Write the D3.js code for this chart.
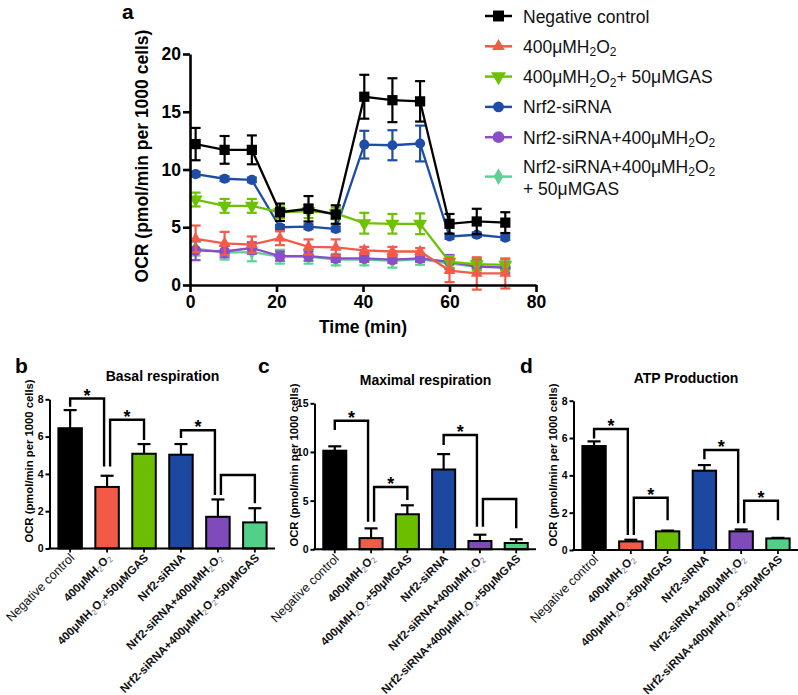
<!DOCTYPE html>
<html><head><meta charset="utf-8">
<script src="https://cdn.jsdelivr.net/npm/d3@7"></script>
<style>
body{margin:0;background:#fff}
text{font-family:"Liberation Sans",Arial,Helvetica,sans-serif}
</style>
</head><body>
<svg id="chart" width="798" height="695"></svg>
<script>
// ---------------- DATA ----------------
const seriesNames = ["Negative control","400μMH2O2","400μMH2O2+ 50μMGAS","Nrf2-siRNA","Nrf2-siRNA+400μMH2O2","Nrf2-siRNA+400μMH2O2|+ 50μMGAS"];
const timeMin = [1.3, 8.0, 14.3, 20.8, 27.4, 33.7, 40.3, 46.8, 53.2, 60.0, 66.3, 72.9];
const ncMean  = [12.2, 11.7, 11.7, 6.3, 6.6, 6.1, 16.3, 16.0, 15.9, 5.3, 5.5, 5.4];
const ncErr   = [1.4, 1.2, 1.25, 0.75, 1.1, 0.8, 1.9, 1.9, 1.75, 0.85, 1.1, 0.9];
const h2o2Mean = [4.0, 3.6, 3.5, 4.05, 3.3, 3.25, 3.0, 2.9, 2.9, 1.25, 1.0, 1.0];
const h2o2Err  = [1.15, 1.0, 0.7, 0.6, 0.65, 0.7, 0.3, 0.4, 0.3, 1.0, 1.4, 1.3];
const gasMean  = [7.4, 6.85, 6.85, 6.3, 6.4, 6.2, 5.35, 5.3, 5.3, 2.0, 1.8, 1.75];
const gasErr   = [0.6, 0.6, 0.6, 0.5, 0.6, 0.5, 0.9, 0.85, 0.9, 0.5, 0.5, 0.5];
const siMean   = [9.6, 9.2, 9.1, 5.0, 5.05, 4.85, 12.15, 12.1, 12.25, 4.2, 4.35, 4.1];
const siErr    = [0.2, 0.2, 0.2, 0.2, 0.2, 0.2, 1.2, 1.3, 1.55, 0.2, 0.2, 0.2];
const siH2o2Mean = [3.0, 2.9, 3.2, 2.5, 2.5, 2.3, 2.3, 2.2, 2.3, 2.0, 1.6, 1.5];
const siH2o2Err  = [0.85, 0.5, 0.5, 0.4, 0.4, 0.3, 0.3, 0.3, 0.3, 0.6, 0.6, 0.5];
const siGasMean  = [3.15, 2.8, 2.85, 2.45, 2.45, 2.2, 2.2, 2.1, 2.25, 1.85, 1.6, 1.55];
const siGasErr   = [0.6, 0.6, 0.8, 0.6, 0.6, 0.5, 0.5, 0.6, 0.5, 0.5, 0.5, 0.5];
const xTicksTop = [0, 20, 40, 60, 80];
const yTicksTop = [0, 5, 10, 15, 20];

const categories = ["Negative control","400μMH2O2","400μMH2O2+50μMGAS","Nrf2-siRNA","Nrf2-siRNA+400μMH2O2","Nrf2-siRNA+400μMH2O2+50μMGAS"];
const basalMean = [6.45, 3.3, 5.08, 5.03, 1.7, 1.4];
const basalErr  = [0.97, 0.6, 0.52, 0.57, 0.93, 0.76];
const maximalMean = [10.13, 1.15, 3.6, 8.2, 0.85, 0.65];
const maximalErr  = [0.45, 1.0, 0.92, 1.58, 0.65, 0.38];
const atpMean = [5.57, 0.46, 1.0, 4.25, 1.0, 0.62];
const atpErr  = [0.25, 0.09, 0.04, 0.3, 0.1, 0.03];
// brackets: [from, to, top value, left leg end, right leg end, significant]
const basalBrackets   = [[0,1,8.04,7.6,4.4,true],[1,2,6.9,4.4,5.82,true],[3,4,6.34,5.93,2.87,true],[4,5,3.94,2.87,2.42,false]];
const maximalBrackets = [[0,1,13.2,12.26,2.84,true],[1,2,6.4,2.84,5.07,true],[3,4,11.75,10.72,2.32,true],[4,5,5.17,2.32,2.16,false]];
const atpBrackets     = [[0,1,6.48,5.98,0.8,true],[1,2,2.8,0.8,1.6,true],[3,4,5.36,4.86,1.43,true],[4,5,2.64,1.43,1.6,true]];
const basalTicks = [0,2,4,6,8];
const maximalTicks = [0,5,10,15];
const atpTicks = [0,2,4,6,8];

const lineColors = ["#000000","#F45A48","#6DC200","#1F4DA6","#8A4FC6","#5AD494"];
const barColors  = ["#000000","#F05A46","#6CBF00","#1D48A0","#7F4BBA","#52CF88"];

// ---------------- HELPERS ----------------
const svg = d3.select("#chart");
function rich(textSel, str, subSize, subShift, subStyle) {
  const parts = []; let buf = "";
  for (let i = 0; i < str.length; i++) {
    const ch = str[i];
    if (ch === "2" && i > 0 && (str[i-1] === "H" || str[i-1] === "O")) {
      if (buf) parts.push({t: buf, sub: false});
      parts.push({t: "2", sub: true}); buf = "";
    } else buf += ch;
  }
  if (buf) parts.push({t: buf, sub: false});
  let shifted = false;
  parts.forEach(p => {
    const ts = textSel.append("tspan").text(p.t);
    if (p.sub) {
      ts.attr("dy", subShift).attr("font-size", subSize);
      if (subStyle) subStyle(ts);
      shifted = true;
    } else if (shifted) { ts.attr("dy", -subShift); shifted = false; }
  });
}
function symbolPath(i, big) {
  const s = big ? 1.15 : 1;
  switch (i) {
    case 0: return d3.symbol(d3.symbolSquare, 105*s)();
    case 1: return d3.symbol(d3.symbolTriangle, 60*s)();
    case 2: return d3.symbol(d3.symbolTriangle, 85*s)();
    case 3: return d3.symbol(d3.symbolCircle, 80*s)();
    case 4: return d3.symbol(d3.symbolCircle, 95*s)();
    default: return d3.symbol(d3.symbolDiamond, 70*s)();
  }
}
function symTransform(i, x, y) {
  return i === 2 ? `translate(${x},${y}) rotate(180)` : `translate(${x},${y})`;
}

// ---------------- PANEL A ----------------
const xT = d3.scaleLinear().domain([0, 80]).range([190, 536]);
const yT = d3.scaleLinear().domain([0, 20]).range([285, 54]);
const gA = svg.append("g");

const allSeries = [
  {m: ncMean, e: ncErr}, {m: h2o2Mean, e: h2o2Err}, {m: gasMean, e: gasErr},
  {m: siMean, e: siErr}, {m: siH2o2Mean, e: siH2o2Err}, {m: siGasMean, e: siGasErr}
];
const line = d3.line().x(d => xT(d.t)).y(d => yT(d.v));
for (let si = allSeries.length - 1; si >= 0; si--) {
  const s = allSeries[si];
  const pts = timeMin.map((t, k) => ({t, v: s.m[k], e: s.e[k]}));
  const g = gA.append("g");
  g.append("path").datum(pts).attr("d", line).attr("fill", "none")
    .attr("stroke", lineColors[si]).attr("stroke-width", 2.3);
  const eb = g.selectAll("g.eb").data(pts).enter().append("g")
    .attr("stroke", lineColors[si]).attr("stroke-width", 2.2);
  eb.append("line").attr("x1", d => xT(d.t)).attr("x2", d => xT(d.t))
    .attr("y1", d => yT(d.v - d.e)).attr("y2", d => yT(d.v + d.e));
  eb.append("line").attr("x1", d => xT(d.t) - 5).attr("x2", d => xT(d.t) + 5)
    .attr("y1", d => yT(d.v + d.e)).attr("y2", d => yT(d.v + d.e));
  eb.append("line").attr("x1", d => xT(d.t) - 5).attr("x2", d => xT(d.t) + 5)
    .attr("y1", d => yT(d.v - d.e)).attr("y2", d => yT(d.v - d.e));
  g.selectAll("path.sym").data(pts).enter().append("path")
    .attr("d", symbolPath(si)).attr("transform", d => symTransform(si, xT(d.t), yT(d.v)))
    .attr("fill", lineColors[si]);
}
const axB = gA.append("g").attr("transform", "translate(0,285)")
  .call(d3.axisBottom(xT).tickValues(xTicksTop).tickSize(7).tickSizeOuter(0).tickPadding(4));
const axL = gA.append("g").attr("transform", "translate(190,0)")
  .call(d3.axisLeft(yT).tickValues(yTicksTop).tickSize(7).tickSizeOuter(0).tickPadding(2));
[axB, axL].forEach(a => {
  a.select(".domain").attr("stroke", "#000").attr("stroke-width", 2.6);
  a.selectAll(".tick line").attr("stroke", "#000").attr("stroke-width", 2.6);
  a.selectAll(".tick text").attr("font-size", 17.5).attr("font-weight", "bold")
    .attr("font-family", '"Liberation Sans",Arial,sans-serif').attr("fill", "#000");
});
gA.append("text").attr("x", 363).attr("y", 333).attr("text-anchor", "middle")
  .attr("font-size", 17.5).attr("font-weight", "bold").text("Time (min)");
gA.append("text").attr("transform", "translate(148,156) rotate(-90)").attr("text-anchor", "middle")
  .attr("font-size", 17.5).attr("font-weight", "bold").text("OCR (pmol/min per 1000 cells)");
gA.append("text").attr("x", 122).attr("y", 19).attr("font-size", 21).attr("font-weight", "bold").text("a");

// legend
const legRowY = [16, 46.3, 76.6, 106.9, 137.2, 176.6];
seriesNames.forEach((name, i) => {
  const y = legRowY[i];
  const g = gA.append("g");
  g.append("line").attr("x1", 485).attr("x2", 512).attr("y1", y).attr("y2", y)
    .attr("stroke", lineColors[i]).attr("stroke-width", 2.5);
  g.append("path").attr("d", symbolPath(i, true)).attr("transform", symTransform(i, 498.5, y))
    .attr("fill", lineColors[i]);
  const lines = name.split("|");
  lines.forEach((ln, k) => {
    const t = g.append("text").attr("x", 523)
      .attr("y", lines.length > 1 ? (k === 0 ? 172.5 : 194.5) : y + 6.5)
      .attr("font-size", 17.5).attr("fill", "#111");
    rich(t, ln, 12, 3.5);
  });
});

// ---------------- BAR PANELS ----------------
function barPanel(cfg) {
  const g = svg.append("g");
  const x = d3.scaleBand().domain(categories).range([cfg.x0, cfg.x1]).paddingInner(0.31).paddingOuter(0.2);
  const y = d3.scaleLinear().domain([0, cfg.ticks[cfg.ticks.length - 1]]).range([cfg.yBase, cfg.yTop]);
  const bw = x.bandwidth();
  const cx = i => x(categories[i]) + bw / 2;
  g.selectAll("rect").data(cfg.mean).enter().append("rect")
    .attr("x", (d, i) => x(categories[i]) + 1).attr("width", bw - 2)
    .attr("y", d => y(d)).attr("height", d => y(0) - y(d))
    .attr("fill", (d, i) => barColors[i]).attr("stroke", "#000").attr("stroke-width", 2);
  cfg.mean.forEach((m, i) => {
    const top = y(m + cfg.err[i]);
    g.append("line").attr("x1", cx(i)).attr("x2", cx(i)).attr("y1", y(m)).attr("y2", top)
      .attr("stroke", "#000").attr("stroke-width", 2.2);
    g.append("line").attr("x1", cx(i) - 6.5).attr("x2", cx(i) + 6.5).attr("y1", top).attr("y2", top)
      .attr("stroke", "#000").attr("stroke-width", 2.2);
  });
  const ay = g.append("g").attr("transform", `translate(${cfg.x0 - 0.5},0)`)
    .call(d3.axisLeft(y).tickValues(cfg.ticks).tickSize(4).tickSizeOuter(0).tickPadding(2));
  ay.select(".domain").attr("stroke-width", 2);
  ay.selectAll(".tick line").attr("stroke-width", 2);
  ay.selectAll(".tick text").attr("font-size", 10.5).attr("font-weight", "bold")
    .attr("font-family", '"Liberation Sans",Arial,sans-serif').attr("fill", "#000");
  g.append("line").attr("x1", cfg.x0 - 1.5).attr("x2", cfg.x1).attr("y1", y(0)).attr("y2", y(0))
    .attr("stroke", "#000").attr("stroke-width", 2);
  categories.forEach((c, i) => {
    g.append("line").attr("x1", cx(i)).attr("x2", cx(i)).attr("y1", y(0)).attr("y2", y(0) + 4)
      .attr("stroke", "#000").attr("stroke-width", 1.8);
    const t = g.append("text").attr("text-anchor", "end")
      .attr("transform", `translate(${cx(i) + 5},${y(0) + 10}) rotate(-45)`)
      .attr("font-size", i === 0 ? 12.5 : 11.5).attr("font-weight", i === 0 ? "normal" : "bold")
      .attr("fill", "#111");
    rich(t, c, 8, 2, ts => ts.attr("font-weight", "normal").attr("fill", "#777"));
  });
  cfg.brackets.forEach(b => {
    const [a, c, topV, lEnd, rEnd, sig] = b;
    const sharedL = cfg.brackets.some(o => o[1] === a);
    const sharedR = cfg.brackets.some(o => o[0] === c);
    const xl = cx(a) + (sharedL ? 3 : 0), xr = cx(c) - (sharedR ? 3 : 0);
    const yt = y(topV);
    g.append("path").attr("d", `M${xl},${y(lEnd)}V${yt}H${xr}V${y(rEnd)}`)
      .attr("fill", "none").attr("stroke", "#000").attr("stroke-width", 2.4);
    if (sig) g.append("text").attr("x", (xl + xr) / 2).attr("y", yt + 3).attr("text-anchor", "middle")
      .attr("font-size", 18).attr("font-weight", "bold").text("*");
  });
  g.append("text").attr("x", (cfg.x0 + cfg.x1) / 2).attr("y", cfg.titleY).attr("text-anchor", "middle")
    .attr("font-size", 14).attr("font-weight", "bold").text(cfg.title);
  g.append("text").attr("transform", `translate(${cfg.x0 - 17},${cfg.labelY}) rotate(-90)`)
    .attr("text-anchor", "middle").attr("font-size", 11.3).attr("font-weight", "bold")
    .text("OCR (pmol/min per 1000 cells)");
  g.append("text").attr("x", cfg.letterX).attr("y", 373).attr("font-size", 21).attr("font-weight", "bold").text(cfg.letter);
}

barPanel({x0: 50, x1: 275, yBase: 548.5, yTop: 399.3, ticks: basalTicks, mean: basalMean, err: basalErr,
  brackets: basalBrackets, title: "Basal respiration", titleY: 381, labelY: 461, letter: "b", letterX: 15});
barPanel({x0: 315, x1: 536, yBase: 549.3, yTop: 403.3, ticks: maximalTicks, mean: maximalMean, err: maximalErr,
  brackets: maximalBrackets, title: "Maximal respiration", titleY: 385, labelY: 465, letter: "c", letterX: 258});
barPanel({x0: 574, x1: 798, yBase: 550, yTop: 400.7, ticks: atpTicks, mean: atpMean, err: atpErr,
  brackets: atpBrackets, title: "ATP Production", titleY: 383, labelY: 465, letter: "d", letterX: 520});
</script>
</body></html>
